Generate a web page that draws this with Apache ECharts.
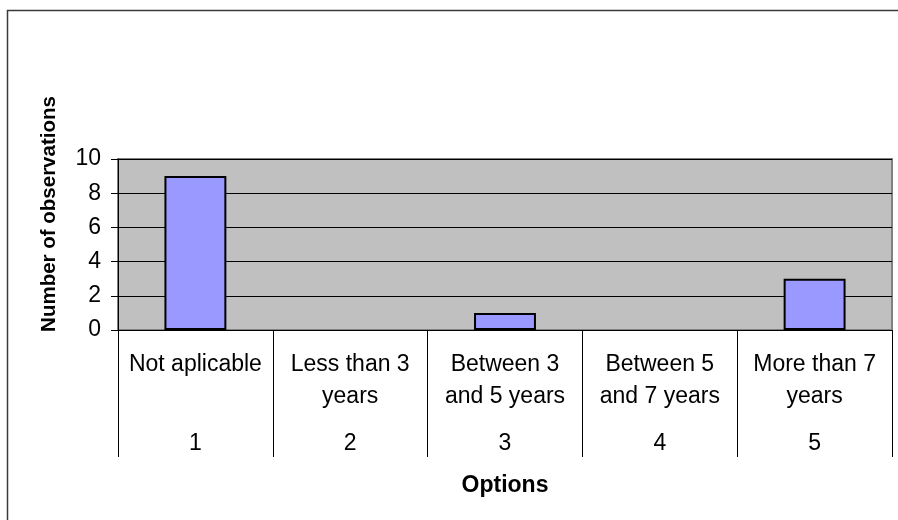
<!DOCTYPE html>
<html>
<head>
<meta charset="utf-8">
<script src="https://cdn.jsdelivr.net/npm/echarts@6/dist/echarts.min.js"></script>
<style>
  html, body { margin: 0; padding: 0; background: #ffffff; }
  #chart { width: 898px; height: 520px; }
</style>
</head>
<body>
<div id="chart"></div>
<script>
// Answer options (label text wraps where Excel wrapped it)
const categories = [
  'Not aplicable',
  'Less than 3\nyears',
  'Between 3\nand 5 years',
  'Between 5\nand 7 years',
  'More than 7\nyears'
];
// Option numbers shown under each label
const optionNumbers = ['1', '2', '3', '4', '5'];
// Number of observations per option
const observations = [9, 0, 1, 0, 3];
// Value axis ticks
const yMin = 0;
const yMax = 10;
const yStep = 2;

const FONT = '"Liberation Sans", Arial, Helvetica, sans-serif';

const chart = echarts.init(document.getElementById('chart'), null, { renderer: 'canvas' });

// Empty options get no outline, like the spreadsheet chart
const barData = observations.map(function (v) {
  return { value: v, itemStyle: { borderWidth: v === 0 ? 0 : 2 } };
});

chart.setOption({
  animation: false,
  backgroundColor: '#ffffff',
  graphic: [
    {
      type: 'rect',
      shape: { x: 7.5, y: 10.5, width: 1000, height: 1000 },
      style: { fill: 'none', stroke: '#3a3a3a', lineWidth: 1.5 },
      silent: true,
      z: 0
    },
    {
      type: 'text',
      x: 49,
      y: 214,
      rotation: Math.PI / 2,
      style: {
        text: 'Number of observations',
        fontFamily: FONT,
        fontWeight: 'bold',
        fontSize: 20.5,
        fill: '#000000',
        align: 'center',
        verticalAlign: 'middle'
      },
      z: 10
    }
  ],
  grid: {
    left: 118,
    top: 159,
    width: 774,
    height: 171,
    show: true,
    backgroundColor: '#c0c0c0',
    borderColor: '#808080',
    borderWidth: 2
  },
  xAxis: {
    type: 'category',
    data: categories,
    boundaryGap: true,
    name: 'Options',
    nameLocation: 'middle',
    nameGap: 144,
    nameTextStyle: {
      fontFamily: FONT,
      fontWeight: 'bold',
      fontSize: 23,
      color: '#000000'
    },
    axisLine: { show: true, lineStyle: { color: '#000000', width: 1 } },
    axisTick: {
      show: true,
      interval: 0,
      length: 127,
      lineStyle: { color: '#000000', width: 1 }
    },
    axisLabel: {
      interval: 0,
      margin: 19,
      formatter: function (value, idx) {
        const lines = value.split('\n');
        while (lines.length < 2) lines.push(' ');
        return lines.map(function (l) { return '{c|' + l + '}'; }).join('\n') +
          '\n{n|' + optionNumbers[idx] + '}';
      },
      rich: {
        c: {
          fontFamily: FONT,
          fontSize: 23,
          color: '#000000',
          lineHeight: 32,
          align: 'center'
        },
        n: {
          fontFamily: FONT,
          fontSize: 23,
          color: '#000000',
          lineHeight: 62,
          align: 'center'
        }
      }
    },
    splitLine: { show: false }
  },
  yAxis: {
    type: 'value',
    min: yMin,
    max: yMax,
    interval: yStep,
    axisLine: { show: true, lineStyle: { color: '#000000', width: 1 } },
    axisTick: { show: true, length: 7, lineStyle: { color: '#000000', width: 1 } },
    axisLabel: {
      margin: 17,
      fontFamily: FONT,
      fontSize: 23,
      color: '#000000'
    },
    splitLine: {
      show: true,
      lineStyle: { color: '#000000', width: 1 }
    }
  },
  series: [
    {
      type: 'bar',
      data: barData,
      barWidth: '40%',
      itemStyle: {
        color: '#9999ff',
        borderColor: '#000000',
        borderWidth: 2
      },
      z: 3
    }
  ]
});
</script>
</body>
</html>
